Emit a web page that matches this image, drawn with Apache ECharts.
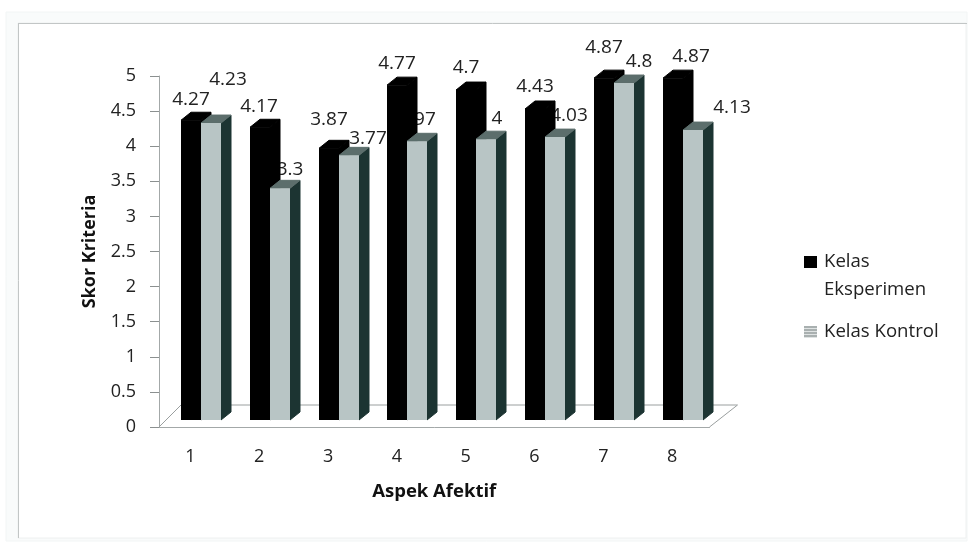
<!DOCTYPE html>
<html>
<head>
<meta charset="utf-8">
<style>html,body{margin:0;padding:0;background:#fff}#chart{width:969px;height:543px}</style>
<script src="https://cdn.jsdelivr.net/npm/echarts@6/dist/echarts.min.js"></script>
</head>
<body>
<div id="chart"></div>
<script>
// Skor kriteria per aspek afektif
const categories = ['1', '2', '3', '4', '5', '6', '7', '8'];
const kelasEksperimen = [4.27, 4.17, 3.87, 4.77, 4.7, 4.43, 4.87, 4.87];
const kelasKontrol = [4.23, 3.3, 3.77, 3.97, 4, 4.03, 4.8, 4.13];
const yTicks = { min: 0, max: 5, interval: 0.5 };

// Hand-placed data labels: [dx, dy] from the top centre of each bar's front face
const shiftEksperimen = [[0, -21], [-1, -21], [0, -29], [0, -22], [0, -22], [0, -22], [0, -31], [18, -22]];
const shiftKontrol = [[17, -43], [10, -19], [19, -17], [0, -22], [11, -21], [14, -22], [15, -21], [39, -22]];

const FONT = '"Open Sans", sans-serif';
const TEXT = '#222';
const AXIS = '#a3a8a8';

// Pseudo-3D geometry in pixels
const DEPTH_X = 10;
const DEPTH_Y = 8;
const FLOOR_X = 27;
const FLOOR_Y = 22;
const LIFT = 7;
const BAR_W = 20;
const BAR_LEFT = -12.4;

function frontBox(api, groupIndex) {
  const base = api.coord([api.value(0), 0]);
  const top = api.coord([api.value(0), api.value(1)]);
  const left = Math.round(base[0] + BAR_LEFT) + groupIndex * BAR_W;
  return { left, right: left + BAR_W, top: top[1] - LIFT, bottom: base[1] - LIFT };
}

function poly(points, fill) {
  return { type: 'polygon', shape: { points }, style: { fill, stroke: fill, lineWidth: 1 } };
}

function barItem(groupIndex, front, side, cap) {
  return function (params, api) {
    const b = frontBox(api, groupIndex);
    return {
      type: 'group',
      children: [
        poly([[b.right, b.top], [b.right + DEPTH_X, b.top - DEPTH_Y], [b.right + DEPTH_X, b.bottom - DEPTH_Y], [b.right, b.bottom]], side),
        poly([[b.left, b.top], [b.left + DEPTH_X, b.top - DEPTH_Y], [b.right + DEPTH_X, b.top - DEPTH_Y], [b.right, b.top]], cap),
        { type: 'rect', shape: { x: b.left, y: b.top, width: BAR_W, height: b.bottom - b.top }, style: { fill: front } }
      ]
    };
  };
}

function labelItem(groupIndex, shifts) {
  return function (params, api) {
    const b = frontBox(api, groupIndex);
    const s = shifts[params.dataIndex];
    return {
      type: 'text',
      style: {
        text: String(api.value(1)),
        x: (b.left + b.right) / 2 + s[0],
        y: b.top + s[1],
        align: 'center',
        verticalAlign: 'middle',
        font: '19px ' + FONT,
        fill: TEXT
      }
    };
  };
}

function floorItem(params, api) {
  const band = api.size([1, 0])[0];
  const origin = api.coord([0, 0]);
  const x0 = origin[0] - band / 2;
  const x1 = x0 + band * categories.length;
  const y = origin[1];
  return {
    type: 'polyline',
    shape: { points: [[x0, y], [x0 + FLOOR_X - 5, y - FLOOR_Y], [x1 + FLOOR_X + 1, y - FLOOR_Y], [x1, y]] },
    style: { fill: 'none', stroke: '#9a9f9f', lineWidth: 1 }
  };
}

const pairs = vals => vals.map((v, i) => [i, v]);

// Thin horizontal bands used for the second legend swatch
const stripeStops = [];
for (let k = 0; k < 4; k++) {
  stripeStops.push({ offset: k / 4, color: '#a9b0b0' }, { offset: (k + 0.5) / 4, color: '#a9b0b0' });
  stripeStops.push({ offset: (k + 0.5) / 4, color: '#dfe3e3' }, { offset: (k + 1) / 4, color: '#dfe3e3' });
}

const chart = echarts.init(document.getElementById('chart'), null, { renderer: 'canvas' });
chart.setOption({
  animation: false,
  backgroundColor: '#fff',
  textStyle: { fontFamily: FONT },
  graphic: [
    { type: 'rect', z: -10, shape: { x: 6, y: 12, width: 961, height: 529 }, style: { fill: '#f9fbfb', stroke: '#f2f5f5' } },
    { type: 'rect', z: -9, shape: { x: 18, y: 23, width: 948, height: 515 }, style: { fill: '#fff', stroke: '#eef0f0' } },
    { type: 'line', z: -8, shape: { x1: 18, y1: 23.5, x2: 967, y2: 23.5 }, style: { stroke: '#c2c6c6', lineWidth: 1 } },
    { type: 'line', z: -8, shape: { x1: 18.5, y1: 23, x2: 18.5, y2: 538 }, style: { stroke: '#c2c6c6', lineWidth: 1 } }
  ],
  grid: { left: 159, top: 76, width: 550.5, height: 351, containLabel: false },
  legend: [
    {
      data: ['Kelas Eksperimen'],
      left: 804, top: 220, selectedMode: false, itemWidth: 13, itemHeight: 12, itemGap: 0,
      padding: 0,
      icon: 'rect',
      formatter: () => '\nKelas\nEksperimen',
      textStyle: { color: TEXT, fontSize: 18.6, lineHeight: 28, fontFamily: FONT, padding: [0, 0, 0, 2] }
    },
    {
      data: [{ name: 'Kelas Kontrol', itemStyle: { color: new echarts.graphic.LinearGradient(0, 0, 0, 1, stripeStops) } }],
      left: 804, top: 318, selectedMode: false, itemWidth: 13, itemHeight: 12,
      padding: 0,
      icon: 'rect',
      textStyle: { color: TEXT, fontSize: 18.6, lineHeight: 28, fontFamily: FONT, padding: [0, 0, 0, 2] }
    }
  ],
  xAxis: {
    type: 'category',
    data: categories,
    name: 'Aspek Afektif',
    nameLocation: 'middle',
    nameGap: 55,
    nameTextStyle: { color: '#111', fontWeight: 'bold', fontSize: 18.5, fontFamily: FONT },
    axisLine: { lineStyle: { color: AXIS, width: 1 } },
    axisTick: { alignWithLabel: false, length: 9, lineStyle: { color: '#8b9090' } },
    axisLabel: { color: TEXT, fontSize: 18, margin: 21, fontFamily: FONT, padding: [0, 6, 0, 0] }
  },
  yAxis: {
    type: 'value',
    min: yTicks.min,
    max: yTicks.max,
    interval: yTicks.interval,
    name: 'Skor Kriteria',
    nameLocation: 'middle',
    nameGap: 60,
    nameRotate: 90,
    nameTextStyle: { color: '#111', fontWeight: 'bold', fontSize: 18, fontFamily: FONT },
    splitLine: { show: false },
    axisLine: { show: true, lineStyle: { color: AXIS, width: 1 } },
    axisTick: { show: true, length: 9, lineStyle: { color: '#8b9090' } },
    axisLabel: { color: TEXT, fontSize: 18, margin: 23, fontFamily: FONT }
  },
  series: [
    { type: 'custom', name: 'lantai', z: 1, silent: true, clip: false, data: [[0, 0]], encode: { x: 0, y: 1 }, renderItem: floorItem },
    // Kontrol labels sit behind the Eksperimen bars
    { type: 'custom', name: 'label kontrol', z: 2, silent: true, clip: false, data: pairs(kelasKontrol), encode: { x: 0, y: 1 }, renderItem: labelItem(1, shiftKontrol) },
    { type: 'custom', name: 'Kelas Eksperimen', z: 3, silent: true, clip: false, itemStyle: { color: '#000' }, data: pairs(kelasEksperimen), encode: { x: 0, y: 1 }, renderItem: barItem(0, '#000', '#000', '#000') },
    { type: 'custom', name: 'label eksperimen', z: 3, silent: true, clip: false, data: pairs(kelasEksperimen), encode: { x: 0, y: 1 }, renderItem: labelItem(0, shiftEksperimen) },
    { type: 'custom', name: 'Kelas Kontrol', z: 4, silent: true, clip: false, itemStyle: { color: '#b8c5c5' }, data: pairs(kelasKontrol), encode: { x: 0, y: 1 }, renderItem: barItem(1, '#b8c5c5', '#1c3432', '#5c6e6c') }
  ]
});
</script>
</body>
</html>
